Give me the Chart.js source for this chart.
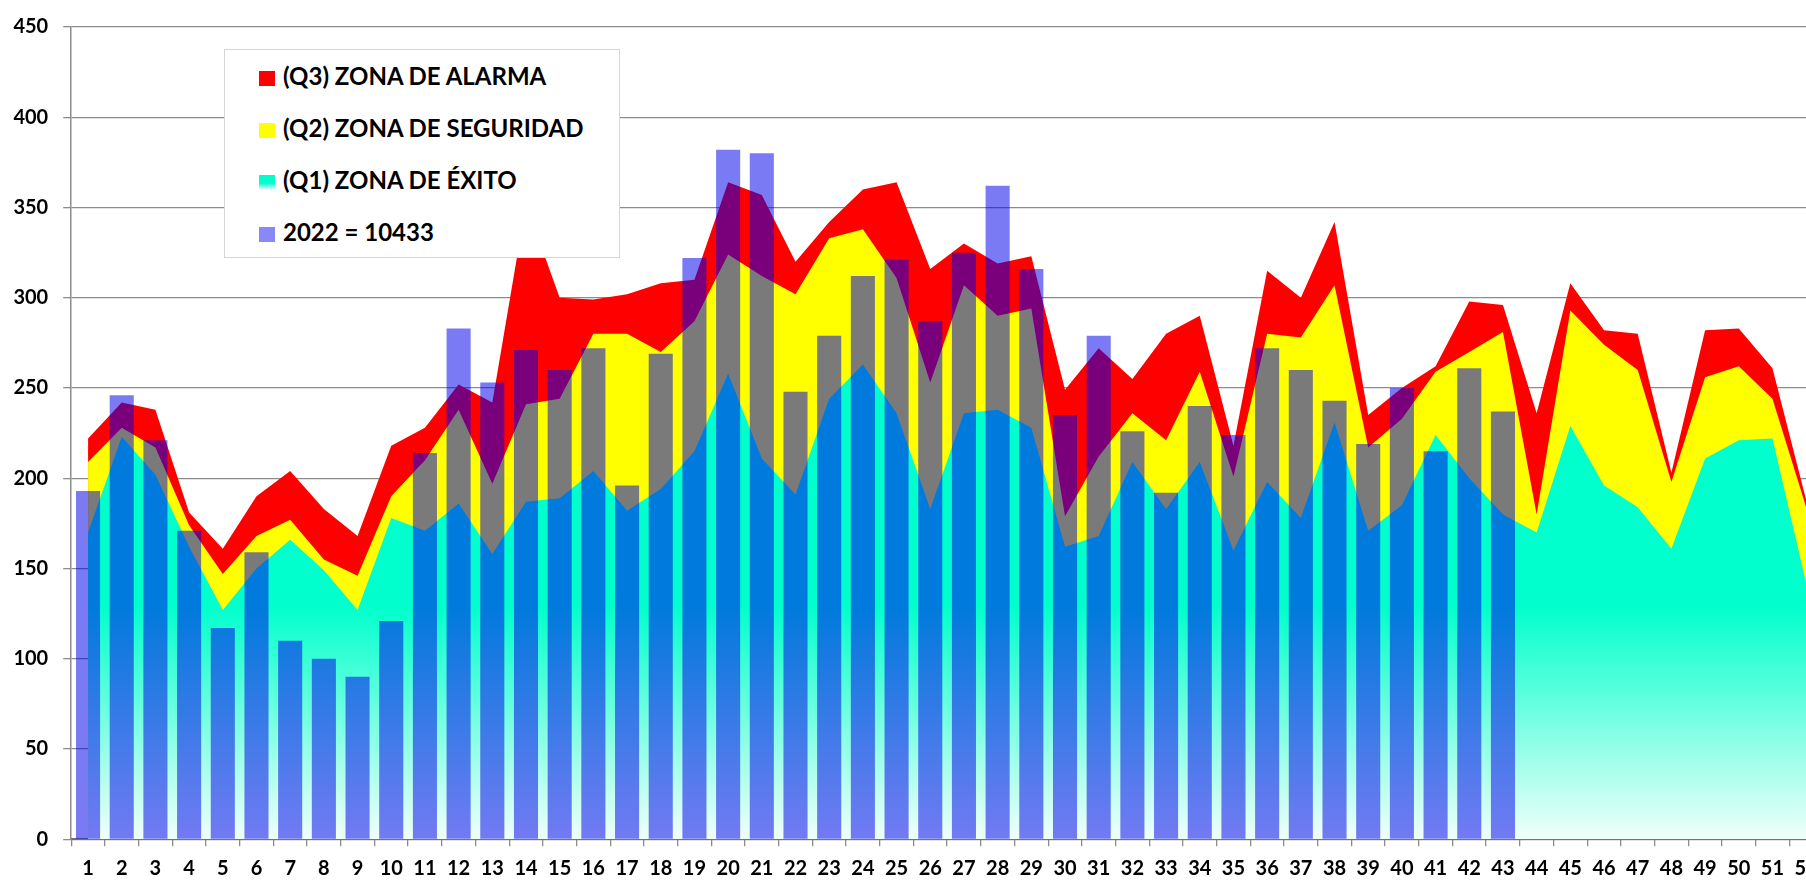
<!DOCTYPE html>
<html lang="es">
<head>
<meta charset="utf-8">
<title>Zonas 2022</title>
<script src="https://cdn.jsdelivr.net/npm/chart.js@4/dist/chart.umd.min.js"></script>
<style>
  html, body { margin: 0; padding: 0; background: #fff; overflow: hidden; }
  #wrap { position: relative; width: 1840px; height: 880px; }
  #chart { position: absolute; left: 0; top: 0; }
  .legend {
    position: absolute; left: 224px; top: 49px; width: 394px; height: 207px;
    background: #fff; border: 1.5px solid #d6d6d6;
    font-family: Lato, 'Open Sans', sans-serif; font-weight: 700; font-size: 24px; color: #000;
  }
  .legend .row { position: absolute; left: 34px; height: 28px; line-height: 28px; white-space: nowrap; }
  .legend .sw { display: inline-block; width: 16px; height: 15px; margin-right: 8px; vertical-align: -1px; }
</style>
</head>
<body>
<div id="wrap">
  <canvas id="chart" width="1840" height="880"></canvas>
  <div class="legend" id="legend"></div>
</div>
<script>
'use strict';

// semanas 1..52
const weeks = Array.from({ length: 52 }, (_, i) => String(i + 1));

// (Q3) zona de alarma
const q3 = [222, 242, 238, 181, 161, 190, 204, 183, 168, 218, 228, 252, 242, 352, 300, 299, 302, 308, 310, 364,
            357, 320, 342, 360, 364, 316, 330, 319, 323, 249, 272, 255, 280, 290, 218, 315, 300, 342, 235, 250,
            262, 298, 296, 236, 308, 282, 280, 203, 282, 283, 261, 188];

// (Q2) zona de seguridad
const q2 = [209, 228, 217, 174, 147, 168, 177, 155, 146, 190, 210, 238, 197, 241, 244, 280, 280, 270, 287, 324,
            312, 302, 333, 338, 311, 253, 307, 290, 294, 179, 212, 236, 221, 259, 201, 280, 278, 307, 217, 233,
            259, 270, 281, 180, 293, 274, 260, 198, 256, 262, 244, 184];

// (Q1) zona de exito
const q1 = [170, 223, 202, 162, 127, 150, 166, 149, 127, 178, 171, 186, 158, 187, 189, 204, 182, 194, 215, 258,
            211, 191, 244, 263, 236, 183, 236, 238, 228, 162, 168, 209, 183, 209, 160, 198, 178, 231, 171, 185,
            224, 200, 180, 170, 229, 196, 184, 161, 211, 221, 222, 142];

// 2022 semanal (43 semanas)
const y2022 = [193, 246, 221, 171, 117, 159, 110, 100, 90, 121, 214, 283, 253, 271, 260, 272, 196, 269, 322, 382,
               380, 248, 279, 312, 321, 287, 325, 362, 316, 235, 279, 226, 192, 240, 224, 272, 260, 243, 219, 250,
               215, 261, 237];

const labelQ3 = '(Q3) ZONA DE ALARMA';
const labelQ2 = '(Q2) ZONA DE SEGURIDAD';
const labelQ1 = '(Q1) ZONA DE ÉXITO';
const label2022 = '2022 = 10433';

const red = '#ff0000';
const yellow = '#ffff00';
const cyan = 'rgb(0,255,204)';
const barColor = 'rgba(0,0,235,0.52)';
const gridGray = '#8c8c8c';
const tickFont = { family: "Lato, 'Open Sans', sans-serif", size: 20, weight: 'bold' };

// cyan fill fades to white towards 0
function cyanFill(ctx) {
  const chart = ctx.chart;
  if (!chart.chartArea) return cyan;
  const y = chart.scales.y;
  const g = chart.ctx.createLinearGradient(0, y.getPixelForValue(130), 0, y.getPixelForValue(0));
  g.addColorStop(0, cyan);
  g.addColorStop(1, 'rgb(240,255,250)');
  return g;
}

function area(label, data, color, order) {
  return {
    type: 'line', label: label, data: data, order: order,
    backgroundColor: color, borderWidth: 0, pointRadius: 0, tension: 0,
    fill: 'origin'
  };
}

new Chart(document.getElementById('chart'), {
  type: 'bar',
  data: {
    labels: weeks,
    datasets: [
      { label: label2022, data: y2022, order: 0, backgroundColor: barColor, borderWidth: 0,
        barPercentage: 0.715, categoryPercentage: 1 },
      area(labelQ1, q1, cyanFill, 1),
      area(labelQ2, q2, yellow, 2),
      area(labelQ3, q3, red, 3)
    ]
  },
  options: {
    responsive: false, animation: false,
    layout: { padding: { top: 23, right: 17, bottom: 0, left: 0 } },
    plugins: { legend: { display: false }, tooltip: { enabled: false } },
    scales: {
      x: {
        offset: true,
        grid: { drawOnChartArea: false, drawTicks: true, tickLength: 7, tickColor: gridGray, lineWidth: 1.3 },
        border: { color: '#707070', width: 2 },
        ticks: { color: '#000', font: tickFont, padding: 10, maxRotation: 0, autoSkip: false },
        afterFit: s => { s.height = 40.7; }
      },
      y: {
        min: 0, max: 450,
        ticks: { stepSize: 50, color: '#000', font: tickFont, padding: 15 },
        grid: { color: gridGray, lineWidth: 1.3, tickLength: 8, tickColor: gridGray },
        border: { color: gridGray, width: 1.5 },
        afterFit: s => { s.width = 71.2; }
      }
    }
  }
});

// ===== legend box over the plot =====
const legendItems = [
  { text: labelQ3, bg: red },
  { text: labelQ2, bg: yellow },
  { text: labelQ1, bg: 'linear-gradient(to bottom, rgb(0,255,204) 55%, #ffffff)' },
  { text: label2022, bg: '#8888f6' }
];
const legendEl = document.getElementById('legend');
legendItems.forEach((it, i) => {
  const row = document.createElement('div');
  row.className = 'row';
  row.style.top = (12 + i * 52) + 'px';
  row.innerHTML = '<span class="sw" style="background:' + it.bg + '"></span>' + it.text;
  legendEl.appendChild(row);
});
</script>
</body>
</html>
